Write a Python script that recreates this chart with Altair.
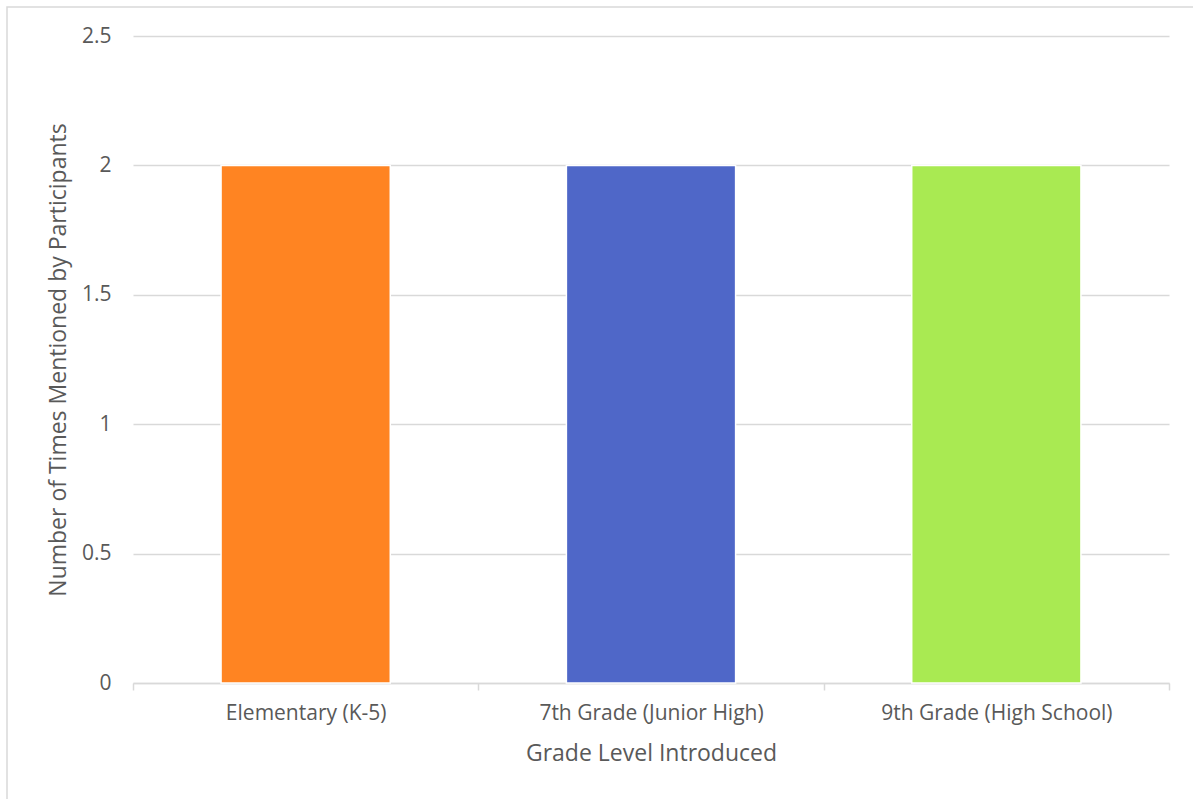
import altair as alt
import pandas as pd

categories = ["Elementary (K-5)", "7th Grade (Junior High)", "9th Grade (High School)"]
values = [2, 2, 2]
colors = ["#FF8422", "#4F67C8", "#A9EA52"]

df = pd.DataFrame({"Grade": categories, "Count": values, "Color": colors})

FONT = "Open Sans"
TXT = "#595959"

frame = alt.Chart(pd.DataFrame({"a": [0]})).mark_rect(
    fill=None, stroke="#d9d9d9", strokeWidth=1.5, clip=False
).encode(
    x=alt.value(-126), x2=alt.value(1100), y=alt.value(-29), y2=alt.value(800)
)

bars = alt.Chart(df).mark_bar(
    stroke="white", strokeWidth=1.5, width=alt.RelativeBandSize(0.49)
).encode(
    x=alt.X(
        "Grade:N", sort=categories,
        scale=alt.Scale(paddingInner=0, paddingOuter=0),
        axis=alt.Axis(
            title="Grade Level Introduced", labelAngle=0, tickBand="extent",
            domainColor="#d9d9d9", tickColor="#d9d9d9", tickSize=7, domainWidth=1.5,
            tickWidth=1.5, labelPadding=12, titlePadding=19, labelFontSize=21,
            titleFontSize=23, labelLimit=400,
            labelColor=TXT, titleColor=TXT, labelFont=FONT, titleFont=FONT,
            titleFontWeight="normal",
        ),
    ),
    y=alt.Y(
        "Count:Q",
        scale=alt.Scale(domain=[0, 2.5]),
        axis=alt.Axis(
            title="Number of Times Mentioned by Participants",
            values=[0, 0.5, 1, 1.5, 2, 2.5], format="~g", domain=False, ticks=False,
            gridColor="#d9d9d9", gridWidth=1.5, labelPadding=22,
            labelFontSize=21, titleFontSize=23, labelColor=TXT, titleColor=TXT,
            labelFont=FONT, titleFont=FONT, titleFontWeight="normal", titlePadding=11,
        ),
    ),
    color=alt.Color("Color:N", scale=None),
)

chart = alt.layer(frame, bars).properties(
    width=1036, height=647,
    autosize=alt.AutoSizeParams(type="none"),
    padding={"left": 133, "top": 36, "right": 24, "bottom": 116},
    background="white",
).configure_view(stroke=None)

chart.save("out.html", embed_options={"renderer": "svg", "actions": False})
